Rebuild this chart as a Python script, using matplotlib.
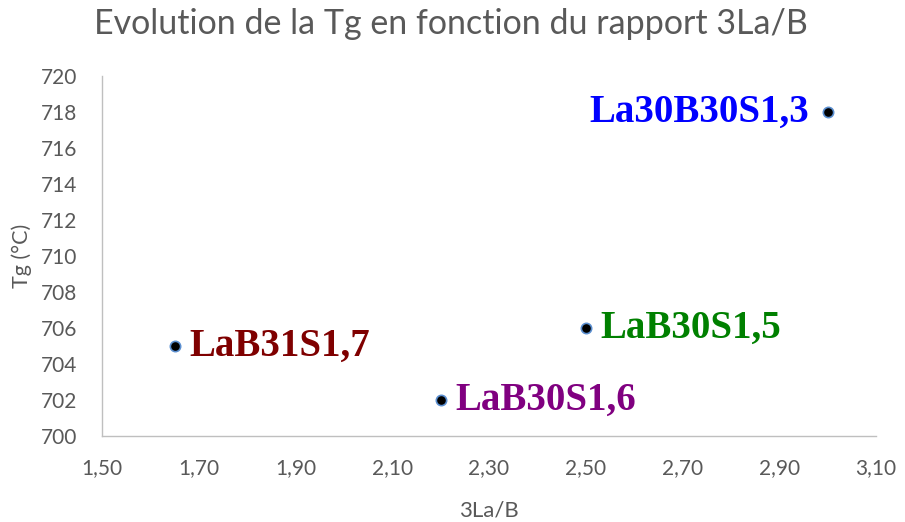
import matplotlib
matplotlib.use("Agg")
from matplotlib import pyplot as plt
from matplotlib.ticker import FuncFormatter

# rapport 3La/B et Tg mesuree pour chaque verre
ratio = [1.65, 2.20, 2.50, 3.00]
tg = [705, 702, 706, 718]
names = ["LaB31S1,7", "LaB30S1,6", "LaB30S1,5", "La30B30S1,3"]
colors = ["#7f0000", "#800080", "#008000", "#0000ff"]

xticks = [1.50, 1.70, 1.90, 2.10, 2.30, 2.50, 2.70, 2.90, 3.10]
yticks = list(range(700, 722, 2))

grey = "#595959"
fig = plt.figure(figsize=(9.05, 5.22), dpi=100)
ax = fig.add_axes([0.1127, 0.1648, 0.8553, 0.6896])

ax.scatter(ratio, tg, s=55, c="black", edgecolors="#5b8fd0", linewidths=1.2, zorder=3)

for x, y, name, col in zip(ratio, tg, names, colors):
    if x > 2.9:
        off, ha = -19, "right"
    else:
        off, ha = 15, "left"
    ax.annotate(name, (x, y), xytext=(off, 0), textcoords="offset pixels",
                ha=ha, va="center", color=col, fontsize=28, fontweight="bold",
                family="Liberation Serif")

ax.set_xlim(1.50, 3.10)
ax.set_ylim(700, 720)
ax.set_xticks(xticks)
ax.set_yticks(yticks)
ax.xaxis.set_major_formatter(FuncFormatter(lambda v, p: ("%.2f" % v).replace(".", ",")))
ax.tick_params(length=0, labelsize=15, labelcolor=grey, pad=16)
ax.tick_params(axis="y", pad=18)
for lab in ax.get_xticklabels() + ax.get_yticklabels():
    lab.set_family("Lato")

for s in ["top", "right"]:
    ax.spines[s].set_visible(False)
for s in ["left", "bottom"]:
    ax.spines[s].set_color("#bfbfbf")
    ax.spines[s].set_linewidth(1)

ax.set_xlabel("3La/B", fontsize=16, color=grey, family="Lato", labelpad=16)
ax.set_ylabel("Tg (°C)", fontsize=15.5, color=grey, family="Lato", labelpad=6)
fig.suptitle("Evolution de la Tg en fonction du rapport 3La/B", x=0.498, y=0.985,
             fontsize=24.5, color=grey, family="Lato")

fig.savefig("out.png", dpi=100)
